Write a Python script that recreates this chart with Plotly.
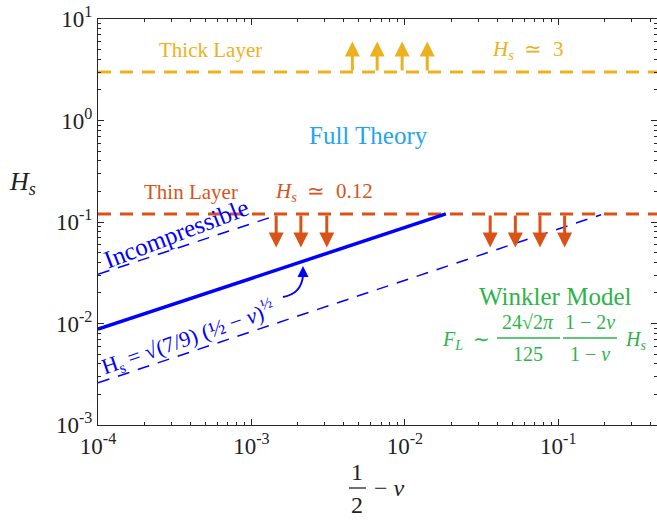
import numpy as np
import plotly.graph_objects as go

# ---- data ----
thick_H = 3.0
thin_H = 0.12
full_x = [1e-4, 0.0185]
full_y = [0.0088, 0.12]
incomp_x = [1e-4, 0.00145]
incomp_y = [0.0305, 0.116]
winkler_x = [1e-4, 0.19]
winkler_y = [0.0026, 0.118]
thick_arrow_x = [0.00455, 0.0066, 0.0096, 0.014]
thick_arrow_tip = 6.0
thin_arrow_x = [0.00145, 0.0021, 0.0031, 0.036, 0.0525, 0.076, 0.11]
thin_arrow_tip = 0.056
xmin, xmax = 1e-4, 0.44
ymin, ymax = 1e-3, 10.0
tick_x = [1e-4, 1e-3, 1e-2, 1e-1]
tick_x_text = ["10<sup>-4</sup>", "10<sup>-3</sup>", "10<sup>-2</sup>", "10<sup>-1</sup>"]
tick_y = [1e-3, 1e-2, 1e-1, 1, 10]
tick_y_text = ["10<sup>-3</sup>", "10<sup>-2</sup>", "10<sup>-1</sup>", "10<sup>0</sup>", "10<sup>1</sup>"]

YELLOW = "#EDB120"
ORANGE = "#D95319"
BLUE = "#0000FF"
CYAN = "#1FA5EC"
GREEN = "#2DB34A"
FONT = "Liberation Serif, Times New Roman, Times, serif"

W, H = 657, 523
L, R, T, B = 98, 0, 19, 98
lx0, lx1 = np.log10(xmin), np.log10(xmax)
ly0, ly1 = np.log10(ymin), np.log10(ymax)


def px2lx(px):
    return lx0 + (px - L) / (W - L - R) * (lx1 - lx0)


def py2ly(py):
    return ly1 - (py - T) / (H - T - B) * (ly1 - ly0)


def pp(px, py):
    return (px - L) / (W - L - R), (H - B - py) / (H - T - B)


fig = go.Figure()
fig.add_trace(go.Scatter(x=[xmin, xmax], y=[thick_H, thick_H], mode="lines",
                         line=dict(color=YELLOW, width=3, dash="13px,9px")))
fig.add_trace(go.Scatter(x=[xmin, xmax], y=[thin_H, thin_H], mode="lines",
                         line=dict(color=ORANGE, width=3, dash="13px,9px")))
fig.add_trace(go.Scatter(x=incomp_x, y=incomp_y, mode="lines",
                         line=dict(color=BLUE, width=1.5, dash="12px,9px")))
fig.add_trace(go.Scatter(x=winkler_x, y=winkler_y, mode="lines",
                         line=dict(color=BLUE, width=1.5, dash="12px,9px")))
fig.add_trace(go.Scatter(x=full_x, y=full_y, mode="lines",
                         line=dict(color=BLUE, width=3.5)))

ann = []
for xv in thick_arrow_x:
    ann.append(dict(x=np.log10(xv), y=np.log10(thick_arrow_tip), ax=np.log10(xv), ay=np.log10(thick_H),
                    xref="x", yref="y", axref="x", ayref="y", text="", showarrow=True,
                    arrowhead=2, arrowsize=1.0, arrowwidth=3, arrowcolor=YELLOW))
for xv in thin_arrow_x:
    ann.append(dict(x=np.log10(xv), y=np.log10(thin_arrow_tip), ax=np.log10(xv), ay=np.log10(thin_H),
                    xref="x", yref="y", axref="x", ayref="y", text="", showarrow=True,
                    arrowhead=2, arrowsize=1.0, arrowwidth=3, arrowcolor=ORANGE))


def txt(px, py, s, color, size, angle=0, xanchor="center"):
    x, y = pp(px, py)
    ann.append(dict(x=x, y=y, xref="paper", yref="paper", text=s, showarrow=False,
                    font=dict(family=FONT, size=size, color=color), textangle=angle,
                    xanchor=xanchor, yanchor="middle"))


txt(210, 50, "Thick Layer", YELLOW, 21)
txt(527, 50, "<i>H<sub>s</sub></i>  ≃  3", YELLOW, 21)
txt(368, 135, "Full Theory", CYAN, 25)
txt(191, 192, "Thin Layer", ORANGE, 21)
txt(324, 192, "<i>H<sub>s</sub></i>  ≃  0.12", ORANGE, 21)
txt(176, 234, "Incompressible", BLUE, 25, angle=-21)
txt(188, 337, "H<sub>s</sub> = √(7/9) (½ − <i>ν</i>)<sup>½</sup>", BLUE, 22, angle=-19)
txt(555, 296, "Winkler Model", GREEN, 25)
# F_L formula with stacked fractions
txt(466, 340, "<i>F<sub>L</sub></i>  ∼", GREEN, 20)
txt(528, 322, "24√2<i>π</i>", GREEN, 20)
txt(528, 354, "125", GREEN, 20)
txt(590, 322, "1 − 2<i>ν</i>", GREEN, 20)
txt(590, 354, "1 − <i>ν</i>", GREEN, 20)
txt(635, 340, "<i>H<sub>s</sub></i>", GREEN, 20)
# axis titles
txt(22, 183, "<i>H<sub>s</sub></i>", "#222222", 26)
txt(357, 472, "1", "#222222", 24)
txt(357, 505, "2", "#222222", 24)
txt(389, 488, "− <i>ν</i>", "#222222", 24)

shapes = []


def hline(px0, px1, py, color, width=1.3):
    x0, y0 = pp(px0, py)
    x1, _ = pp(px1, py)
    shapes.append(dict(type="line", xref="paper", yref="paper", x0=x0, x1=x1, y0=y0, y1=y0,
                       line=dict(color=color, width=width)))


hline(497, 560, 338, GREEN)
hline(563, 617, 338, GREEN)
hline(349, 366, 488, "#222222")

# curved arrow near formula
p0, c0, p1 = pp(283, 297), pp(301, 294), pp(303, 276)
shapes.append(dict(type="path", xref="paper", yref="paper",
                   path=f"M {p0[0]} {p0[1]} Q {c0[0]} {c0[1]} {p1[0]} {p1[1]}",
                   line=dict(color=BLUE, width=2)))
ann.append(dict(x=px2lx(303), y=py2ly(266), ax=px2lx(303), ay=py2ly(278),
                xref="x", yref="y", axref="x", ayref="y", text="", showarrow=True,
                arrowhead=2, arrowsize=1.1, arrowwidth=2, arrowcolor=BLUE))

minor_x = [m * 10.0 ** e for e in range(-4, 0) for m in range(2, 10) if m * 10.0 ** e < xmax]
minor_y = [m * 10.0 ** e for e in range(-3, 1) for m in range(2, 10)]

axis_common = dict(type="log", showgrid=False, zeroline=False, showline=True, linecolor="#262626",
                   linewidth=1, mirror="ticks", ticks="inside", ticklen=6, tickcolor="#262626",
                   automargin=False,
                   tickfont=dict(family=FONT, size=23, color="#222222"))

fig.update_layout(
    width=W, height=H, margin=dict(l=L, r=R, t=T, b=B),
    paper_bgcolor="white", plot_bgcolor="white", showlegend=False,
    font=dict(family=FONT),
    xaxis=dict(range=[lx0, lx1], tickmode="array", tickvals=tick_x, ticktext=tick_x_text,
               minor=dict(tickmode="array", tickvals=minor_x, ticks="inside", ticklen=3, tickcolor="#262626"),
               **axis_common),
    yaxis=dict(range=[ly0, ly1], tickmode="array", tickvals=tick_y, ticktext=tick_y_text,
               minor=dict(tickmode="array", tickvals=minor_y, ticks="inside", ticklen=3, tickcolor="#262626"),
               **axis_common),
    annotations=ann, shapes=shapes,
)
fig.write_html("out.html", config={"displayModeBar": False},
               post_script="document.body.style.margin='0';")
